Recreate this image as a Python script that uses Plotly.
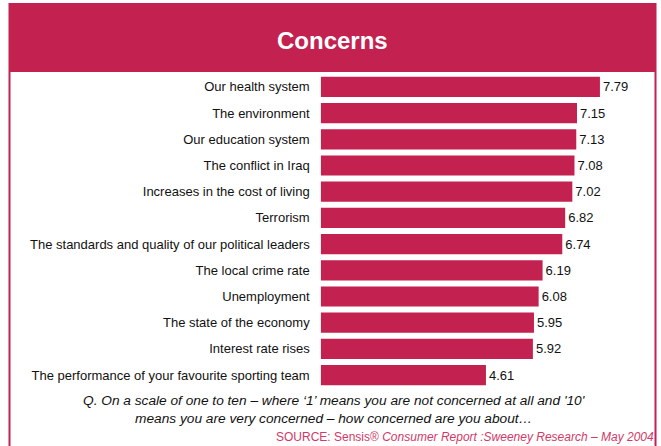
import plotly.graph_objects as go

# Survey results: average concern score (1-10)
categories = [
    "Our health system",
    "The environment",
    "Our education system",
    "The conflict in Iraq",
    "Increases in the cost of living",
    "Terrorism",
    "The standards and quality of our political leaders",
    "The local crime rate",
    "Unemployment",
    "The state of the economy",
    "Interest rate rises",
    "The performance of your favourite sporting team",
]
scores = [7.79, 7.15, 7.13, 7.08, 7.02, 6.82, 6.74, 6.19, 6.08, 5.95, 5.92, 4.61]

W, H = 661, 446
CRIMSON = "#C3214F"
FONT = "Liberation Sans, Arial, sans-serif"

def px_x(v):
    return v / W

def px_y(v):
    return 1 - v / H

fig = go.Figure(
    go.Bar(
        x=scores,
        y=categories,
        orientation="h",
        marker=dict(color=CRIMSON, line=dict(width=0)),
        text=[f"{s:.2f}" for s in scores],
        textposition="outside",
        textfont=dict(family=FONT, size=13, color="#111111"),
        cliponaxis=False,
        width=0.77,
    )
)

fig.update_layout(
    width=W,
    height=H,
    margin=dict(l=0, r=0, t=0, b=0),
    paper_bgcolor="white",
    plot_bgcolor="white",
    showlegend=False,
    xaxis=dict(
        domain=[px_x(320.7), px_x(643.3)],
        range=[0, 9],
        showgrid=False,
        showticklabels=False,
        zeroline=False,
        showline=False,
        ticks="",
    ),
    yaxis=dict(
        domain=[px_y(388.2), px_y(73.8)],
        autorange="reversed",
        categoryorder="array",
        categoryarray=categories,
        showgrid=False,
        zeroline=False,
        showline=False,
        ticks="",
        ticklabelstandoff=10,
        tickfont=dict(family=FONT, size=13, color="#111111"),
    ),
    shapes=[
        # outer frame
        dict(type="rect", xref="paper", yref="paper",
             x0=px_x(9.5), x1=px_x(655.5), y0=px_y(452), y1=px_y(4),
             line=dict(color=CRIMSON, width=2), fillcolor="rgba(0,0,0,0)", layer="below"),
        # title band
        dict(type="rect", xref="paper", yref="paper",
             x0=px_x(9), x1=px_x(656), y0=px_y(72), y1=px_y(4),
             line=dict(width=0), fillcolor=CRIMSON, layer="below"),
    ],
    annotations=[
        dict(text="<b>Concerns</b>", xref="paper", yref="paper",
             x=px_x(332), y=px_y(40), xanchor="center", yanchor="middle",
             showarrow=False, font=dict(family=FONT, size=24, color="white")),
        dict(text="<i>Q. On a scale of one to ten – where ‘1’ means you are not concerned at all and '10'<br>means you are very concerned – how concerned are you about…</i>",
             xref="paper", yref="paper", x=px_x(334), y=px_y(409),
             xanchor="center", yanchor="middle", showarrow=False,
             align="center", font=dict(family=FONT, size=13.7, color="#111111")),
        dict(text="SOURCE: Sensis® <i>Consumer Report :Sweeney Research – May 2004</i>",
             xref="paper", yref="paper", x=px_x(656), y=px_y(437),
             xanchor="right", yanchor="middle",
             showarrow=False, font=dict(family=FONT, size=12, color="#D03A68")),
    ],
)

fig.write_html("out.html")
